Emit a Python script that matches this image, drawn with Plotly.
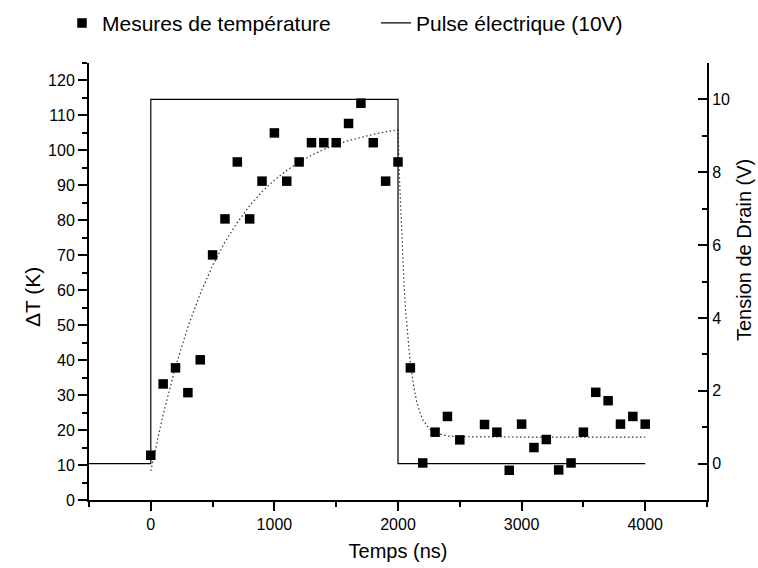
import plotly.graph_objects as go

# Temperature measurements (ΔT, K) vs time (ns)
t_meas = [0, 100, 200, 300, 400, 500, 600, 700, 800, 900, 1000, 1100, 1200, 1300, 1400,
          1500, 1600, 1700, 1800, 1900, 2000, 2100, 2200, 2300, 2400, 2500, 2700, 2800,
          2900, 3000, 3100, 3200, 3300, 3400, 3500, 3600, 3700, 3800, 3900, 4000]
dT_meas = [12.8, 33.2, 37.8, 30.7, 40.1, 70.1, 80.4, 96.7, 80.4, 91.2, 105.0, 91.2, 96.7,
           102.2, 102.2, 102.2, 107.7, 113.5, 102.2, 91.2, 96.7, 37.8, 10.6, 19.4, 23.9,
           17.2, 21.6, 19.4, 8.5, 21.7, 15.0, 17.3, 8.6, 10.6, 19.4, 30.8, 28.4, 21.7, 23.9, 21.7]

# Fitted curve (dotted)
t_fit = [0, 100, 200, 300, 400, 500, 600, 700, 800, 900, 1000, 1100, 1200, 1300, 1400,
         1500, 1600, 1700, 1800, 1900, 2000, 2012, 2025, 2037, 2050, 2062, 2075, 2087,
         2100, 2125, 2150, 2175, 2200, 2250, 2300, 2400, 2500, 3000, 4000]
dT_fit = [8.3, 24.5, 38.1, 49.5, 59.0, 67.1, 73.8, 79.4, 84.2, 88.2, 91.5, 94.3, 96.6, 98.6,
          100.3, 101.7, 102.8, 103.8, 104.6, 105.3, 105.9, 92.0, 79.5, 69.3, 61.0, 53.9,
          48.1, 43.0, 39.1, 32.9, 28.3, 25.3, 23.0, 20.5, 19.2, 18.3, 18.1, 18.0, 18.0]

# Electrical pulse (V) vs time (ns)
t_pulse = [-500, 0, 0, 2000, 2000, 4000]
v_pulse = [0, 0, 10, 10, 0, 0]

FONT = "Arial, 'Liberation Sans', sans-serif"

fig = go.Figure()
fig.add_trace(go.Scatter(
    x=t_fit, y=dT_fit, mode="lines", showlegend=False,
    line=dict(color="#333333", width=1.2, dash="1.5px,2.5px"), yaxis="y"))
fig.add_trace(go.Scatter(
    x=t_meas, y=dT_meas, mode="markers", name="Mesures de température",
    marker=dict(symbol="square", size=9.5, color="black"), yaxis="y"))
fig.add_trace(go.Scatter(
    x=t_pulse, y=v_pulse, mode="lines", name="Pulse électrique (10V)",
    line=dict(color="black", width=1.2), yaxis="y2"))

axis_common = dict(showgrid=False, zeroline=False, showline=True, linecolor="black",
                   linewidth=2, tickcolor="black", tickwidth=1.5, automargin=False,
                   tickfont=dict(family=FONT, size=16, color="black"))

fig.update_layout(
    width=758, height=568,
    margin=dict(l=89, r=51, t=63, b=68, autoexpand=False),
    paper_bgcolor="white", plot_bgcolor="white",
    font=dict(family=FONT, color="black"),
    xaxis=dict(range=[-500, 4500], tickmode="array", tickvals=[0, 1000, 2000, 3000, 4000],
               ticks="outside", ticklen=9,
               minor=dict(tickvals=[-500, 500, 1500, 2500, 3500, 4500], ticks="outside",
                          ticklen=5, tickcolor="black", tickwidth=1.5),
               title=dict(text="Temps (ns)", font=dict(family=FONT, size=20), standoff=12),
               **axis_common),
    yaxis=dict(range=[0, 125], tickmode="linear", tick0=0, dtick=10, ticks="outside",
               ticklen=9,
               minor=dict(dtick=5, ticks="outside", ticklen=5, tickcolor="black", tickwidth=1.5),
               **axis_common),
    yaxis2=dict(range=[-1, 11], overlaying="y", side="right", tickmode="linear", tick0=0,
                dtick=2, ticks="inside", ticklen=9,
                minor=dict(dtick=1, ticks="inside", ticklen=5, tickcolor="black", tickwidth=1.5),
                **axis_common),
    legend=dict(orientation="h", x=-0.0437, xanchor="left", y=1.091, yanchor="middle",
                font=dict(family=FONT, size=21, color="black"),
                bgcolor="rgba(0,0,0,0)", entrywidthmode="pixels", entrywidth=269),
    annotations=[
        dict(text="ΔT (K)", xref="paper", yref="paper", x=-0.0922, y=0.4645,
             textangle=-90, showarrow=False, xanchor="center", yanchor="middle",
             font=dict(family=FONT, size=21, color="black")),
        dict(text="Tension de Drain (V)", xref="paper", yref="paper", x=1.0599, y=0.572,
             textangle=-90, showarrow=False, xanchor="center", yanchor="middle",
             font=dict(family=FONT, size=20, color="black")),
    ],
)

fig.write_html("out.html", config={"displayModeBar": False},
               post_script="document.body.style.margin='0px';document.body.style.overflow='hidden';")
